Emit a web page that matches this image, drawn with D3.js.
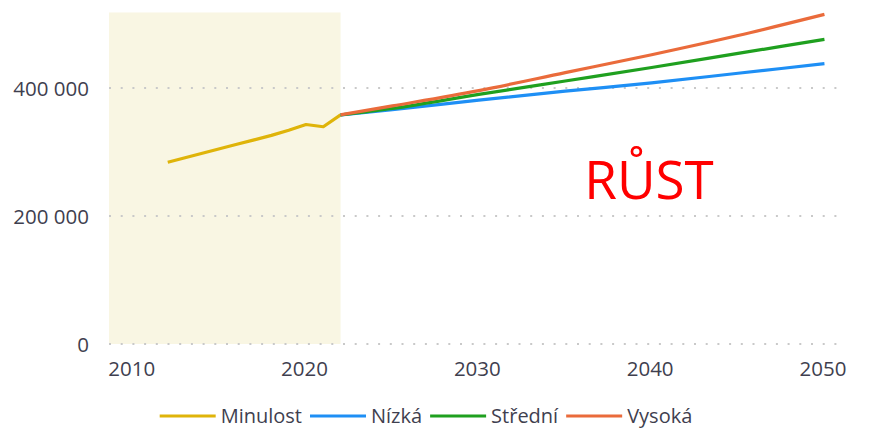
<!DOCTYPE html>
<html>
<head>
<meta charset="utf-8">
<script src="https://cdn.jsdelivr.net/npm/d3@7"></script>
<style>
  body { margin: 0; background: #fff; }
  text { font-family: "Open Sans", "Noto Sans", sans-serif; }
</style>
</head>
<body>
<script>

// data
const pastYears = [2012, 2013, 2014, 2015, 2016, 2017, 2018, 2019, 2020, 2021, 2022];
const pastValues = [284000, 291000, 298000, 305000, 312000, 319000, 326000, 334000, 343000, 339500, 358000];

const projYears = [2022, 2025, 2030, 2035, 2040, 2045, 2050];
const lowValues = [358000, 366000, 381000, 395000, 408000, 423000, 438000];
const midValues = [358000, 368000, 390000, 411000, 432000, 454000, 476000];
const highValues = [358000, 372000, 396000, 424000, 452000, 482000, 515000];

const seriesNames = ["Minulost", "Nízká", "Střední", "Vysoká"];
const seriesColors = ["#dfb40a", "#1e8ff5", "#1fa01f", "#ea6b3b"];

const shadeYears = [2008.6, 2022];
const shadeTop = 518000;

const xTicks = [2010, 2020, 2030, 2040, 2050];
const yTicks = [0, 200000, 400000];

const W = 869;
const H = 428;

const svg = d3.select("body")
.append("svg")
.attr("width", W)
.attr("height", H);

const xScale = d3.scaleLinear()
.domain([2008.6, 2050.9])
.range([109, 840]);

const yScale = d3.scaleLinear()
.domain([0, 400000])
.range([344, 88]);

// shaded "past" band
svg.append("rect")
.attr("x", xScale(shadeYears[0]))
.attr("y", yScale(shadeTop))
.attr("width", xScale(shadeYears[1]) - xScale(shadeYears[0]))
.attr("height", yScale(0) - yScale(shadeTop))
.attr("fill", "#f9f6e3");

// dotted gridlines
svg.append("g")
.selectAll("line")
.data(yTicks)
.enter()
.append("line")
.attr("x1", xScale.range()[0])
.attr("x2", xScale.range()[1])
.attr("y1", (d) => yScale(d))
.attr("y2", (d) => yScale(d))
.attr("stroke", "#c9c9c9")
.attr("stroke-width", 2)
.attr("stroke-dasharray", "2,9.7");

const fmt = (d) => d3.format(",")(d).replace(/,/g, " ");

const yAxis = d3.axisLeft(yScale).tickValues(yTicks).tickFormat(fmt).tickSize(0).tickPadding(0);
const yG = svg.append("g")
.attr("transform", "translate(89,0)")
.call(yAxis);
yG.select(".domain").remove();
yG.selectAll("text")
.attr("dy", "0.35em")
.attr("fill", "#3f3f4f")
.style("font-size", "20.5px");

const xAxis = d3.axisBottom(xScale).tickValues(xTicks).tickFormat(d3.format("d")).tickSize(0).tickPadding(0);
const xG = svg.append("g")
.attr("transform", "translate(-2,361)")
.call(xAxis);
xG.select(".domain").remove();
xG.selectAll("text")
.attr("dy", "0.71em")
.attr("fill", "#3f3f4f")
.style("font-size", "20.5px");

const line = d3.line()
.x((d) => xScale(d[0]))
.y((d) => yScale(d[1]))
.curve(d3.curveMonotoneX);

const straight = d3.line()
.x((d) => xScale(d[0]))
.y((d) => yScale(d[1]));

const series = [
  d3.zip(pastYears, pastValues),
  d3.zip(projYears, lowValues),
  d3.zip(projYears, midValues),
  d3.zip(projYears, highValues)
];

svg.selectAll("path.series")
.data(series)
.enter()
.append("path")
.attr("class", "series")
.attr("d", (d, i) => i == 0 ? straight(d) : line(d))
.attr("fill", "none")
.attr("stroke", (d, i) => seriesColors[i])
.attr("stroke-width", 3.2)
.attr("stroke-linejoin", "round");

// big label
svg.append("text")
.text("RŮST")
.attr("x", 649)
.attr("y", 199)
.attr("text-anchor", "middle")
.attr("fill", "#ff0000")
.style("font-size", "53px");

// legend
const legend = svg.append("g").attr("id", "legend");
const lineLen = 56, gapText = 5, gapItem = 8;
const items = legend.selectAll("g")
.data(seriesNames)
.enter()
.append("g");
items.append("line")
.attr("x1", 0).attr("x2", lineLen)
.attr("y1", 0).attr("y2", 0)
.attr("stroke", (d, i) => seriesColors[i])
.attr("stroke-width", 3.2);
items.append("text")
.text((d) => d)
.attr("x", lineLen + gapText)
.attr("y", 7)
.attr("fill", "#3f3f4f")
.style("font-size", "20px");

let offset = 0;
const widths = [];
items.each(function () {
  const w = lineLen + gapText + d3.select(this).select("text").node().getComputedTextLength();
  widths.push(w);
});
const total = d3.sum(widths) + gapItem * (widths.length - 1);
let start = 426 - total / 2;
items.attr("transform", (d, i) => {
  const x = start + offset;
  offset += widths[i] + gapItem;
  return `translate(${x},416)`;
});

</script>
</body>
</html>
